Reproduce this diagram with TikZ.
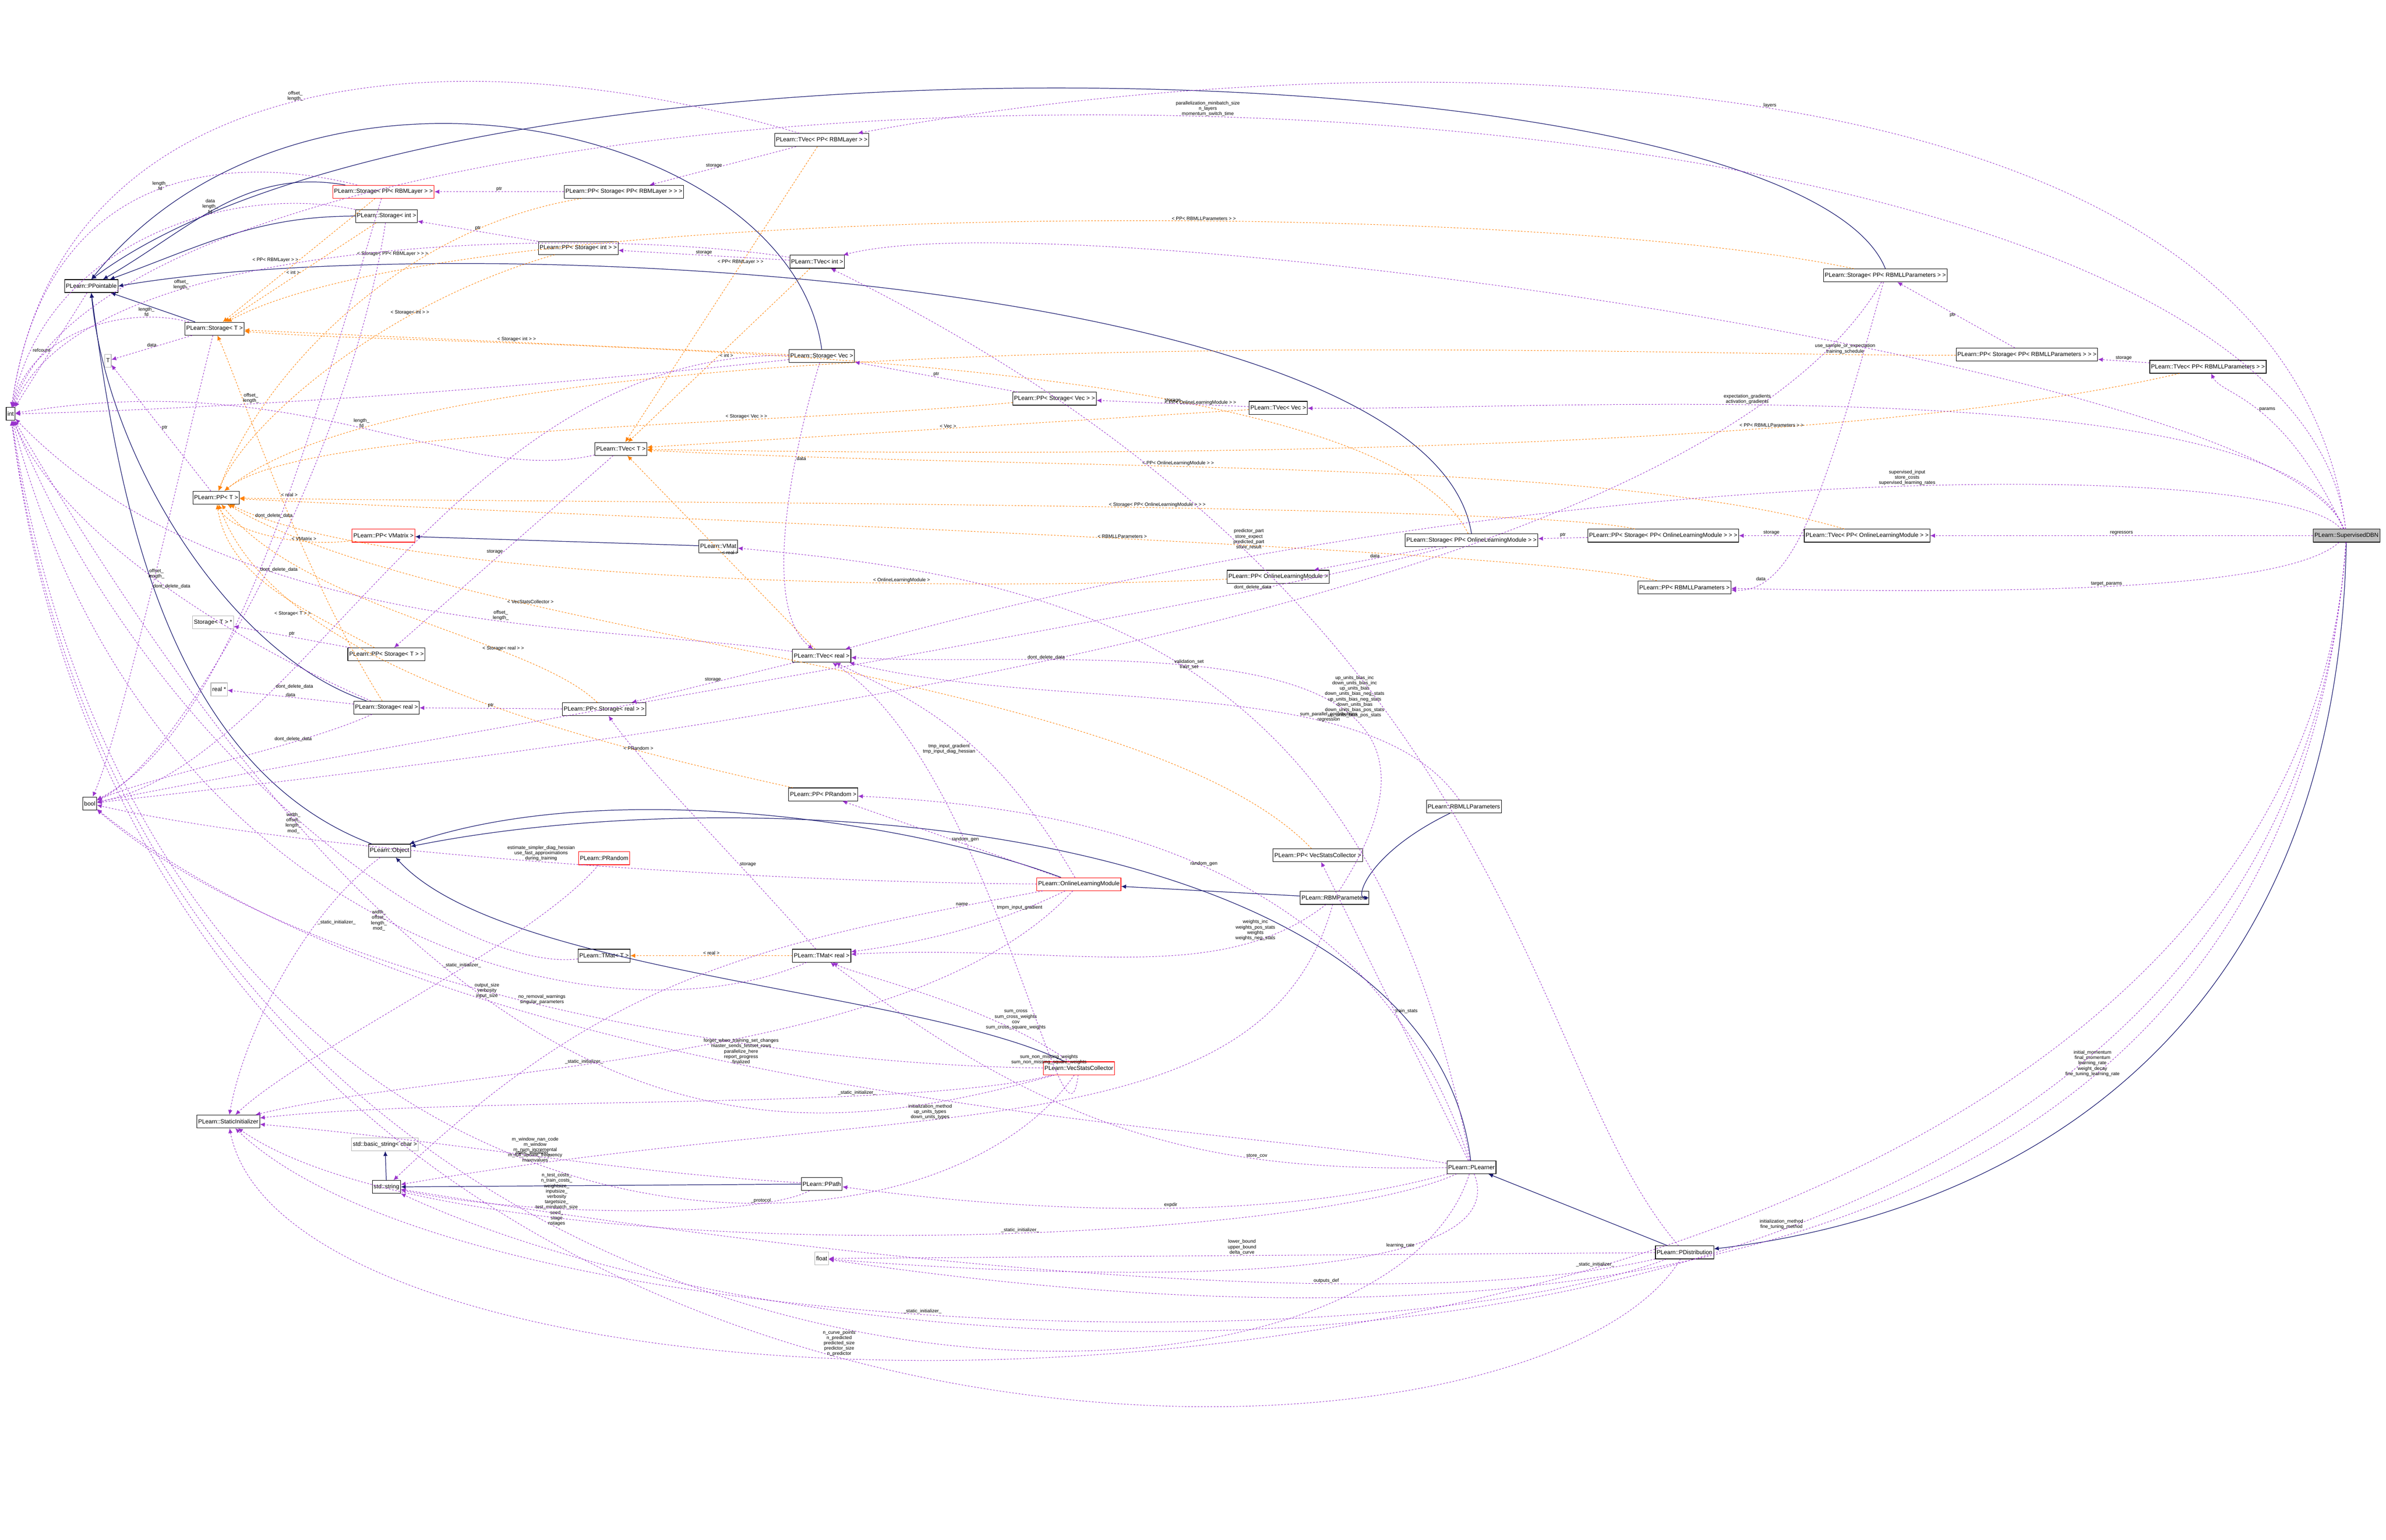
\documentclass[tikz,border=0pt]{standalone}
\usepackage{fontspec}
\setmainfont{Liberation Sans}
\usetikzlibrary{arrows.meta}
\begin{document}
\begin{tikzpicture}[x=0.1cm,y=-0.1cm,
  every node/.style={font=\fontsize{10}{11}\selectfont},
  cls/.style={draw=black,line width=1pt,fill=white,inner sep=2.5pt,minimum height=0.85cm,font=\fontsize{11}{12}\selectfont},
  red/.style={cls,draw=red},
  gry/.style={cls,draw=gray!60},
  inh/.style={draw={rgb,255:red,25;green,25;blue,112},line width=1.1pt,-{Latex[length=9pt,width=8pt]}},
  mem/.style={draw={rgb,255:red,153;green,50;blue,204},dashed,line width=0.9pt,-{Latex[length=9pt,width=8pt]}},
  tmpl/.style={draw=orange,dashed,line width=0.9pt,-{Latex[length=9pt,width=8pt]}},
  lab/.style={fill=none,align=center,inner sep=1pt,font=\fontsize{9}{10}\selectfont}]
\useasboundingbox[fill=white] (0,0) rectangle (1568,1011.7);
% nodes
\node[cls,fill=gray!50] (sdbn) at (1542,352) {PLearn::SupervisedDBN};
\node[cls] (tvolm) at (1227,352) {PLearn::TVec< PP< OnlineLearningModule > >};
\node[cls] (ppsolm) at (1093,352) {PLearn::PP< Storage< PP< OnlineLearningModule > > >};
\node[cls] (solm) at (967,355) {PLearn::Storage< PP< OnlineLearningModule > >};
\node[cls] (ppolm) at (840,379) {PLearn::PP< OnlineLearningModule >};
\node[cls] (pprbmll) at (1107,386) {PLearn::PP< RBMLLParameters >};
\node[cls] (tvrbmll) at (1451,241) {PLearn::TVec< PP< RBMLLParameters > >};
\node[cls] (ppsrbmll) at (1332,233) {PLearn::PP< Storage< PP< RBMLLParameters > > >};
\node[cls] (srbmll) at (1239,181) {PLearn::Storage< PP< RBMLLParameters > >};
\node[cls] (tvvec) at (840,268) {PLearn::TVec< Vec >};
\node[cls] (tvrbml) at (540,92) {PLearn::TVec< PP< RBMLayer > >};
\node[red] (srbml) at (252,126) {PLearn::Storage< PP< RBMLayer > >};
\node[cls] (ppsrbml) at (410,126) {PLearn::PP< Storage< PP< RBMLayer > > >};
\node[cls] (sint) at (254,142) {PLearn::Storage< int >};
\node[cls] (ppsint) at (380,163) {PLearn::PP< Storage< int > >};
\node[cls] (tvint) at (537,172) {PLearn::TVec< int >};
\node[cls] (ppt) at (60,188) {PLearn::PPointable};
\node[cls] (st) at (141,216) {PLearn::Storage< T >};
\node[gry] (T) at (71,237) {T};
\node[cls] (int) at (7,272) {int};
\node[cls] (svec) at (540,234) {PLearn::Storage< Vec >};
\node[cls] (ppsvec) at (693,262) {PLearn::PP< Storage< Vec > >};
\node[cls] (tvt) at (408,295) {PLearn::TVec< T >};
\node[cls] (ppT) at (142,327) {PLearn::PP< T >};
\node[red] (ppvm) at (252,352) {PLearn::PP< VMatrix >};
\node[cls] (vmat) at (472,359) {PLearn::VMat};
\node[gry] (stp) at (140,409) {Storage< T > *};
\node[cls] (ppst) at (254,430) {PLearn::PP< Storage< T > >};
\node[gry] (realp) at (144,453) {real *};
\node[cls] (sreal) at (254,465) {PLearn::Storage< real >};
\node[cls] (ppsreal) at (397,466) {PLearn::PP< Storage< real > >};
\node[cls] (tvreal) at (540,431) {PLearn::TVec< real >};
\node[cls] (bool) at (59,528) {bool};
\node[cls] (pprand) at (541,522) {PLearn::PP< PRandom >};
\node[cls] (obj) at (256,559) {PLearn::Object};
\node[red] (prand) at (397,564) {PLearn::PRandom};
\node[red] (olm) at (709,581) {PLearn::OnlineLearningModule};
\node[cls] (ppvsc) at (866,562) {PLearn::PP< VecStatsCollector >};
\node[cls] (rbmp) at (877,590) {PLearn::RBMParameters};
\node[cls] (rbmll) at (962,530) {PLearn::RBMLLParameters};
\node[cls] (tmreal) at (540,628) {PLearn::TMat< real >};
\node[cls] (tmt) at (397,628) {PLearn::TMat< T >};
\node[red] (vsc) at (709,702) {PLearn::VecStatsCollector};
\node[cls] (sinit) at (150,737) {PLearn::StaticInitializer};
\node[gry] (bstr) at (253,752) {std::basic\_string< char >};
\node[cls] (str) at (254,780) {std::string};
\node[cls] (ppath) at (540,778) {PLearn::PPath};
\node[cls] (pl) at (967,767) {PLearn::PLearner};
\node[gry] (float) at (540,827) {float};
\node[cls] (pdist) at (1107,823) {PLearn::PDistribution};
% inheritance
\draw[inh] (srbml) to[out=170,in=30] (ppt);
\draw[inh] (sint) to[out=180,in=20] (ppt);
\draw[inh] (st) -- (ppt);
\draw[inh] (svec.north) .. controls (520,80) and (200,10) .. (ppt.north);
\draw[inh] (sreal) .. controls (150,430) and (70,300) .. (ppt.south);
\draw[inh] (srbmll.north) .. controls (1180,30) and (300,5) .. (ppt.north);
\draw[inh] (solm.north) .. controls (940,180) and (300,150) .. (ppt.east);
\draw[inh] (obj) .. controls (100,500) and (75,300) .. (ppt.south);
\draw[inh] (vmat) -- (ppvm);
\draw[inh] (olm) .. controls (600,540) and (400,510) .. (obj);
\draw[inh] (vsc) .. controls (600,650) and (330,640) .. (obj);
\draw[inh] (rbmp) -- (olm);
\draw[inh] (rbmll) .. controls (900,560) and (890,590) .. (rbmp);
\draw[inh] (pl) .. controls (940,540) and (500,510) .. (obj);
\draw[inh] (pdist) -- (pl);
\draw[inh] (sdbn) .. controls (1535,700) and (1300,800) .. (pdist);
\draw[inh] (ppath) -- (str);
\draw[inh] (str) -- (bstr);
% templates
\draw[tmpl] (tvrbml) -- node[lab,above,pos=0.4]{< PP< RBMLayer > >} (tvt);
\draw[tmpl] (tvint) -- node[lab,right]{< int >} (tvt);
\draw[tmpl] (tvvec) -- node[lab,above]{< Vec >} (tvt);
\draw[tmpl] (tvreal) -- node[lab,right]{< real >} (tvt);
\draw[tmpl] (tvrbmll) .. controls (1200,300) and (700,300) .. node[lab,above,pos=0.3]{< PP< RBMLLParameters > >} (tvt);
\draw[tmpl] (tvolm) .. controls (1050,300) and (700,310) .. node[lab,above,pos=0.6]{< PP< OnlineLearningModule > >} (tvt);
\draw[tmpl] (srbml) -- node[lab,left]{< PP< RBMLayer > >} (st);
\draw[tmpl] (sint) -- node[lab,left]{< int >} (st);
\draw[tmpl] (svec) -- node[lab,above]{< Storage< int > >} (st);
\draw[tmpl] (sreal) .. controls (200,380) and (160,260) .. node[lab,right]{< real >} (st);
\draw[tmpl] (srbmll) .. controls (1000,130) and (300,130) .. node[lab,above,pos=0.4]{< PP< RBMLLParameters > >} (st);
\draw[tmpl] (solm) .. controls (900,220) and (300,230) .. node[lab,above,pos=0.3]{< PP< OnlineLearningModule > >} (st);
\draw[tmpl] (ppsrbml) .. controls (260,150) and (170,250) .. node[lab,left,pos=0.3]{< Storage< PP< RBMLayer > > >} (ppT);
\draw[tmpl] (ppsint) .. controls (250,200) and (160,280) .. node[lab,above,pos=0.3]{< Storage< int > >} (ppT);
\draw[tmpl] (ppsvec) .. controls (500,280) and (200,280) .. node[lab,above,pos=0.3]{< Storage< Vec > >} (ppT);
\draw[tmpl] (ppsreal) .. controls (350,420) and (200,400) .. node[lab,above,pos=0.3]{< Storage< real > >} (ppT);
\draw[tmpl] (ppst) .. controls (200,400) and (150,380) .. node[lab,left,pos=0.3]{< Storage< T > >} (ppT);
\draw[tmpl] (ppvm) .. controls (200,360) and (150,350) .. node[lab,above,pos=0.3]{< VMatrix >} (ppT);
\draw[tmpl] (pprand) .. controls (350,480) and (180,430) .. node[lab,above,pos=0.2]{< PRandom >} (ppT);
\draw[tmpl] (ppolm) .. controls (600,390) and (250,380) .. node[lab,above,pos=0.3]{< OnlineLearningModule >} (ppT);
\draw[tmpl] (ppvsc) .. controls (750,440) and (300,420) .. node[lab,above,pos=0.7]{< VecStatsCollector >} (ppT);
\draw[tmpl] (pprbmll) .. controls (1000,360) and (400,340) .. node[lab,above,pos=0.45]{< RBMLLParameters >} (ppT);
\draw[tmpl] (ppsrbmll) .. controls (1100,235) and (300,200) .. node[lab,above,pos=0.1]{use\_sample\_or\_expectation\\training\_schedule} (ppT);
\draw[tmpl] (ppsolm) .. controls (1000,330) and (300,330) .. node[lab,above,pos=0.4]{< Storage< PP< OnlineLearningModule > > >} (ppT);
\draw[tmpl] (tmreal) -- node[lab,above]{< real >} (tmt);
% members
\draw[mem] (ppsrbml) -- node[lab,above]{ptr} (srbml);
\draw[mem] (ppsint) -- node[lab,above]{ptr} (sint);
\draw[mem] (ppsvec) -- node[lab,above]{ptr} (svec);
\draw[mem] (ppsreal) -- node[lab,above]{ptr} (sreal);
\draw[mem] (ppst) -- node[lab,above]{ptr} (stp);
\draw[mem] (ppT) -- node[lab,right]{ptr} (T);
\draw[mem] (st) -- node[lab,above]{data} (T);
\draw[mem] (sreal) -- node[lab,above]{data} (realp);
\draw[mem] (tvrbml) -- node[lab,left]{storage} (ppsrbml);
\draw[mem] (tvint) -- node[lab,above]{storage} (ppsint);
\draw[mem] (tvvec) -- node[lab,above]{storage} (ppsvec);
\draw[mem] (tvreal) -- node[lab,above]{storage} (ppsreal);
\draw[mem] (tvt) -- node[lab,left]{storage} (ppst);
\draw[mem] (tvrbmll) -- node[lab,above]{storage} (ppsrbmll);
\draw[mem] (tvolm) -- node[lab,above]{storage} (ppsolm);
\draw[mem] (ppsrbmll) -- node[lab,left]{ptr} (srbmll);
\draw[mem] (ppsolm) -- node[lab,above]{ptr} (solm);
\draw[mem] (solm) -- node[lab,above]{data} (ppolm);
\draw[mem] (srbmll) .. controls (1200,320) and (1180,390) .. node[lab,left,pos=0.8]{data} (pprbmll);
\draw[mem] (svec) .. controls (520,300) and (500,400) .. node[lab,right,pos=0.3]{data} (tvreal);
\draw[mem] (tmreal) .. controls (480,560) and (420,500) .. node[lab,right,pos=0.3]{storage} (ppsreal);
\draw[mem] (ppt) -- node[lab,left]{refcount} (int);
\draw[mem] (st) .. controls (80,200) and (20,220) .. node[lab,above,pos=0.2]{length\_\\fd} (int);
\draw[mem] (srbml) .. controls (150,100) and (30,110) .. node[lab,left,pos=0.45]{length\_\\fd} (int);
\draw[mem] (sint) .. controls (150,120) and (30,160) .. node[lab,above,pos=0.35]{data\\length\_\\fd} (int);
\draw[mem] (tvt) .. controls (300,320) and (200,240) .. node[lab,above,pos=0.5]{length\_\\fd} (int);
\draw[mem] (svec) .. controls (300,260) and (100,270) .. node[lab,above,pos=0.6]{offset\_\\length\_} (int);
\draw[mem] (tvrbml) .. controls (300,20) and (40,40) .. node[lab,above,pos=0.5]{offset\_\\length\_} (int);
\draw[mem] (tvint) .. controls (400,150) and (60,150) .. node[lab,above,pos=0.7]{offset\_\\length\_} (int);
\draw[mem] (sreal) .. controls (150,420) and (40,350) .. node[lab,above,pos=0.5]{offset\_\\length\_} (int);
\draw[mem] (tvreal) .. controls (400,410) and (150,420) .. node[lab,above,pos=0.4]{offset\_\\length\_} (int);
\draw[mem] (svec) .. controls (300,230) and (200,500) .. node[lab,right,pos=0.7]{dont\_delete\_data} (bool);
\draw[mem] (srbml) .. controls (200,300) and (150,480) .. node[lab,right,pos=0.5]{dont\_delete\_data} (bool);
\draw[mem] (sint) .. controls (230,300) and (120,500) .. node[lab,left,pos=0.4]{dont\_delete\_data} (bool);
\draw[mem] (sreal) .. controls (200,490) and (100,510) .. node[lab,above,pos=0.3]{dont\_delete\_data} (bool);
\draw[mem] (st) .. controls (120,300) and (80,480) .. node[lab,right,pos=0.5]{dont\_delete\_data} (bool);
\draw[mem] (solm) .. controls (800,400) and (300,480) .. node[lab,above,pos=0.2]{dont\_delete\_data} (bool);
\draw[mem] (srbmll) .. controls (1100,420) and (300,500) .. node[lab,above,pos=0.5]{dont\_delete\_data} (bool);
\draw[mem] (sdbn) .. controls (1500,0) and (100,0) .. node[lab,above,pos=0.5]{parallelization\_minibatch\_size\\n\_layers\\momentum\_switch\_time} (int);
\draw[mem] (sdbn) .. controls (1500,20) and (900,25) .. node[lab,above,pos=0.5]{layers} (tvrbml);
\draw[mem] (sdbn) .. controls (1500,240) and (1000,270) .. node[lab,above,pos=0.6]{expectation\_gradients\\activation\_gradients} (tvvec);
\draw[mem] (sdbn) .. controls (1500,260) and (1460,260) .. node[lab,right,pos=0.5]{params} (tvrbmll);
\draw[mem] (sdbn) -- node[lab,above]{regressors} (tvolm);
\draw[mem] (sdbn) .. controls (1500,390) and (1300,390) .. node[lab,above,pos=0.5]{target\_params} (pprbmll);
\draw[mem] (sdbn) .. controls (1500,300) and (1000,300) .. node[lab,above,pos=0.45]{supervised\_input\\store\_costs\\supervised\_learning\_rates} (tvreal);
\draw[mem] (sdbn) .. controls (1500,240) and (700,130) .. (tvint);
\draw[mem] (sdbn) .. controls (1500,900) and (900,880) .. node[lab,above,pos=0.3]{initial\_momentum\\final\_momentum\\learning\_rate\\weight\_decay\\fine\_tuning\_learning\_rate} (float);
\draw[mem] (sdbn) .. controls (1500,950) and (600,940) .. node[lab,above,pos=0.4]{initialization\_method\\fine\_tuning\_method} (str);
\draw[mem] (sdbn) .. controls (1500,980) and (200,990) .. node[lab,above,pos=0.4]{\_static\_initializer\_} (sinit);
\draw[mem] (rbmp) .. controls (1000,400) and (700,440) .. node[lab,above,pos=0.3]{up\_units\_bias\_inc\\down\_units\_bias\_inc\\up\_units\_bias\\down\_units\_bias\_neg\_stats\\up\_units\_bias\_neg\_stats\\down\_units\_bias\\down\_units\_bias\_pos\_stats\\up\_units\_bias\_pos\_stats} (tvreal);
\draw[mem] (rbmll) .. controls (900,440) and (700,470) .. node[lab,above,pos=0.3]{sum\_parallel\_contributions\\regression} (tvreal);
\draw[mem] (rbmp) .. controls (800,650) and (700,620) .. node[lab,above,pos=0.2]{weights\_inc\\weights\_pos\_stats\\weights\\weights\_neg\_stats} (tmreal);
\draw[mem] (rbmp) .. controls (830,760) and (600,720) .. node[lab,above,pos=0.6]{initialization\_method\\up\_units\_types\\down\_units\_types} (str);
\draw[mem] (olm) .. controls (650,480) and (600,460) .. node[lab,left,pos=0.4]{tmp\_input\_gradient\\tmp\_input\_diag\_hessian} (tvreal);
\draw[mem] (olm) .. controls (650,610) and (600,620) .. node[lab,above,pos=0.2]{tmpm\_input\_gradient} (tmreal);
\draw[mem] (olm) .. controls (500,620) and (400,640) .. node[lab,above,pos=0.1]{name} (str);
\draw[mem] (olm) .. controls (500,580) and (200,560) .. node[lab,above,pos=0.5]{estimate\_simpler\_diag\_hessian\\use\_fast\_approximations\\during\_training} (bool);
\draw[mem] (olm) .. controls (600,700) and (300,700) .. node[lab,above,pos=0.6]{\_static\_initializer\_} (sinit);
\draw[mem] (olm) -- node[lab,right]{random\_gen} (pprand);
\draw[mem] (vsc) .. controls (650,660) and (560,640) .. node[lab,above,pos=0.2]{sum\_cross\\sum\_cross\_weights\\cov\\sum\_cross\_square\_weights} (tmreal);
\draw[mem] (vsc) .. controls (700,780) and (650,500) .. node[lab,below,pos=0.3]{sum\_non\_missing\_weights\\sum\_non\_missing\_square\_weights} (tvreal);
\draw[mem] (vsc) .. controls (500,700) and (200,650) .. node[lab,above,pos=0.5]{no\_removal\_warnings\\singular\_parameters} (bool);
\draw[mem] (vsc) .. controls (600,860) and (100,850) .. node[lab,above,pos=0.5]{m\_window\_nan\_code\\m\_window\\m\_num\_incremental\\m\_full\_update\_frequency\\maxnvalues} (int);
\draw[mem] (vsc) .. controls (600,730) and (300,720) .. node[lab,above,pos=0.3]{\_static\_initializer\_} (sinit);
\draw[mem] (pl) -- node[lab,right]{train\_stats} (ppvsc);
\draw[mem] (pl) .. controls (850,800) and (700,800) .. node[lab,above,pos=0.5]{expdir} (ppath);
\draw[mem] (pl) .. controls (800,740) and (300,720) .. node[lab,above,pos=0.55]{forget\_when\_training\_set\_changes\\master\_sends\_testset\_rows\\parallelize\_here\\report\_progress\\finalized} (bool);
\draw[mem] (pl) .. controls (900,980) and (100,960) .. node[lab,above,pos=0.6]{n\_test\_costs\_\\n\_train\_costs\_\\weightsize\_\\inputsize\_\\verbosity\\targetsize\_\\test\_minibatch\_size\\seed\_\\stage\\nstages} (int);
\draw[mem] (pl) .. controls (900,560) and (700,530) .. node[lab,above,pos=0.5]{random\_gen} (pprand);
\draw[mem] (pl) .. controls (850,820) and (300,840) .. node[lab,above,pos=0.4]{\_static\_initializer\_} (sinit);
\draw[mem] (pl) .. controls (900,420) and (700,380) .. node[lab,above,pos=0.5]{validation\_set\\train\_set} (vmat);
\draw[mem] (pl) .. controls (1000,850) and (700,840) .. node[lab,above,pos=0.3]{learning\_rate} (float);
\draw[mem] (pdist) .. controls (1000,700) and (1000,400) .. node[lab,right,pos=0.75]{predictor\_part\\store\_expect\\predicted\_part\\store\_result} (tvint);
\draw[mem] (pdist) -- node[lab,above]{lower\_bound\\upper\_bound\\delta\_curve} (float);
\draw[mem] (pdist) .. controls (900,870) and (500,820) .. node[lab,above,pos=0.3]{outputs\_def} (str);
\draw[mem] (pdist) .. controls (1000,1000) and (100,1010) .. node[lab,above,pos=0.5]{n\_curve\_points\\n\_predicted\\predicted\_size\\predictor\_size\\n\_predictor} (int);
\draw[mem] (pdist) .. controls (900,900) and (300,880) .. node[lab,above,pos=0.5]{\_static\_initializer\_} (sinit);
\draw[mem] (pl) .. controls (800,770) and (700,750) .. node[lab,above,pos=0.3]{store\_cov} (tmreal);
\draw[mem] (ppath) .. controls (500,800) and (350,800) .. node[lab,above,pos=0.2]{\_protocol} (str);
\draw[mem] (ppath) .. controls (400,770) and (300,750) .. node[lab,above,pos=0.5]{\_static\_initializer\_} (sinit);
\draw[mem] (obj) .. controls (200,600) and (160,680) .. node[lab,right,pos=0.3]{\_static\_initializer\_} (sinit);
\draw[mem] (prand) .. controls (350,620) and (200,690) .. node[lab,above,pos=0.4]{\_static\_initializer\_} (sinit);
\draw[mem] (tmt) .. controls (300,640) and (100,500) .. node[lab,left,pos=0.5]{width\_\\offset\_\\length\_\\mod\_} (int);
\draw[mem] (tmreal) .. controls (400,690) and (100,620) .. node[lab,left,pos=0.5]{width\_\\offset\_\\length\_\\mod\_} (int);
\draw[mem] (vsc) .. controls (500,760) and (300,770) .. node[lab,above,pos=0.6]{output\_size\\verbosity\\input\_size} (int);
\end{tikzpicture}
\end{document}
